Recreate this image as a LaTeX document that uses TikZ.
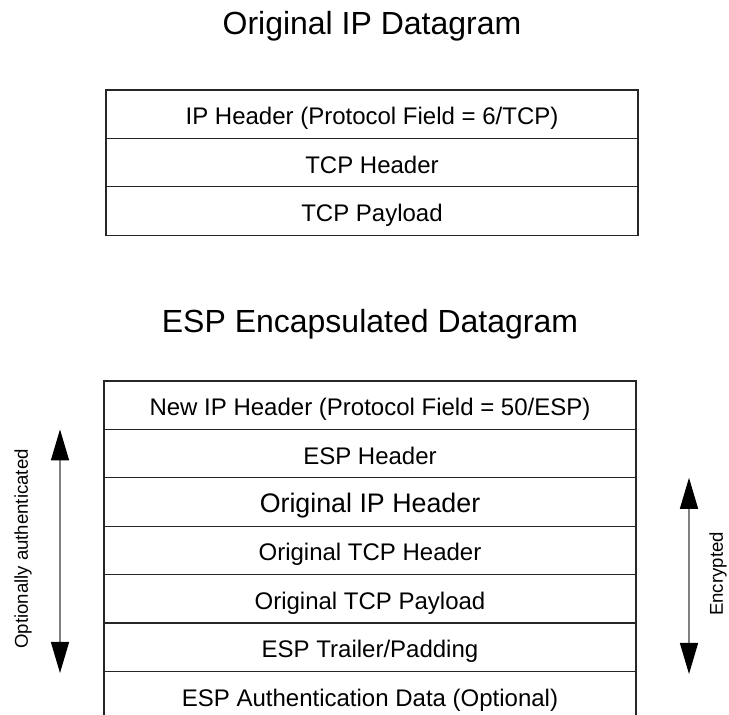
\documentclass[tikz,border=0pt]{standalone}
\usepackage{fontspec}
\setmainfont{Liberation Sans}
\usetikzlibrary{positioning,arrows.meta}

\begin{document}
\begin{tikzpicture}[
  x=0.5pt, y=-0.5pt,
  title/.style={anchor=base, font=\fontsize{16}{19}\selectfont},
  field/.style={draw=black!85, line width=0.6pt, minimum width=266pt, minimum height=24.2pt,
    outer sep=0pt, inner sep=0pt, text height=1.05em, text depth=0pt, font=\fontsize{12}{14}\selectfont},
  side/.style={rotate=90, font=\fontsize{9.3}{11}\selectfont},
  arr/.style={{Triangle[length=15.5pt,width=9pt,color=black]}-{Triangle[length=15.5pt,width=9pt,color=black]},
    draw=black!50, line width=0.7pt}
]
\useasboundingbox (0,0) rectangle (729,715);
\clip (0,0) rectangle (729,715);
% original datagram
\node[title] (orig) at (372,35) {Original IP Datagram};
\node[field, anchor=north] (iph) at (372,90) {IP Header (Protocol Field = 6/TCP)};
\node[field, below=0pt of iph] (tcph) {TCP Header};
\node[field, below=0pt of tcph] (tcpp) {TCP Payload};
% esp datagram
\node[title] (esp) at (370,333) {ESP Encapsulated Datagram};
\node[field, anchor=north] (newip) at (370,381) {New IP Header (Protocol Field = 50/ESP)};
\node[field, below=0pt of newip] (esph) {ESP Header};
\node[field, below=0pt of esph, font=\fontsize{13.4}{15}\selectfont] (oiph) {Original IP Header};
\node[field, below=0pt of oiph] (otcph) {Original TCP Header};
\node[field, below=0pt of otcph] (otcpp) {Original TCP Payload};
\node[field, below=0pt of otcpp] (trail) {ESP Trailer/Padding};
\node[field, below=0pt of trail] (auth) {ESP Authentication Data (Optional)};
% arrows
\coordinate (authtop) at (60,0 |- esph.north);
\coordinate (authbot) at (60,673);
\coordinate (enctop) at (689,0 |- oiph.north);
\coordinate (encbot) at (689,674);
\draw[arr] (authtop) -- (authbot);
\draw[arr] (enctop) -- (encbot);
\node[side] (authlab) at (23,549) {Optionally authenticated};
\node[side] (enclab) at (718,574) {Encrypted};
\end{tikzpicture}
\end{document}
